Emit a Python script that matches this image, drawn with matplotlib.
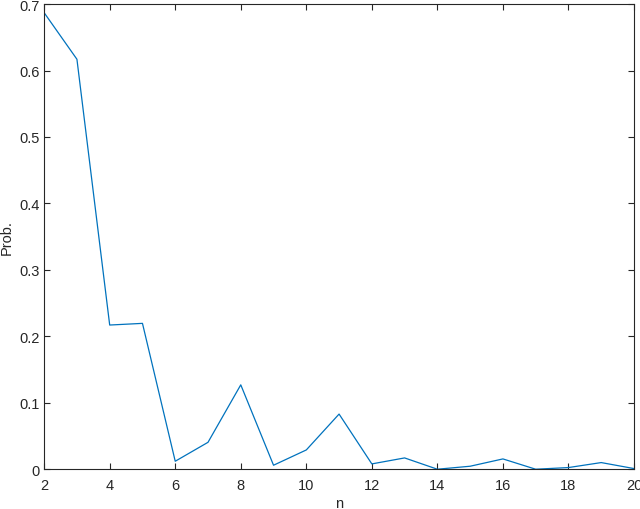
import numpy as np
import matplotlib.pyplot as plt

plt.rcParams['font.family'] = ['Liberation Sans', 'DejaVu Sans']

# data
n = list(range(2, 21))
prob = [0.687, 0.617, 0.217, 0.2195, 0.012, 0.0405, 0.127, 0.006, 0.029,
        0.083, 0.008, 0.017, 0.0, 0.0045, 0.0155, 0.0, 0.0025, 0.010, 0.001]

fig = plt.figure(figsize=(6.4, 5.1), dpi=100)
ax = fig.add_axes([0.069, 0.078, 0.9216, 0.912])
ax.plot(n, prob, color='#0072BD', lw=0.9)

ax.set_xlim(2, 20)
ax.set_ylim(0, 0.7)
ax.set_xticks(np.arange(2, 21, 2))
ax.set_yticks(np.arange(0, 0.71, 0.1))
ax.set_yticklabels(['0', '0.1', '0.2', '0.3', '0.4', '0.5', '0.6', '0.7'])

dark = '#262626'
for s in ax.spines.values():
    s.set_color(dark)
    s.set_linewidth(0.8)
ax.tick_params(direction='in', top=True, right=True, length=4, width=0.8,
               colors=dark, labelsize=10.5, labelcolor=dark)
ax.tick_params(axis='x', pad=6)
ax.set_xlabel('n', fontsize=10.5, color=dark, labelpad=3)
ax.set_ylabel('Prob.', fontsize=10.5, color=dark, labelpad=4)

fig.savefig('out.png', dpi=100)
